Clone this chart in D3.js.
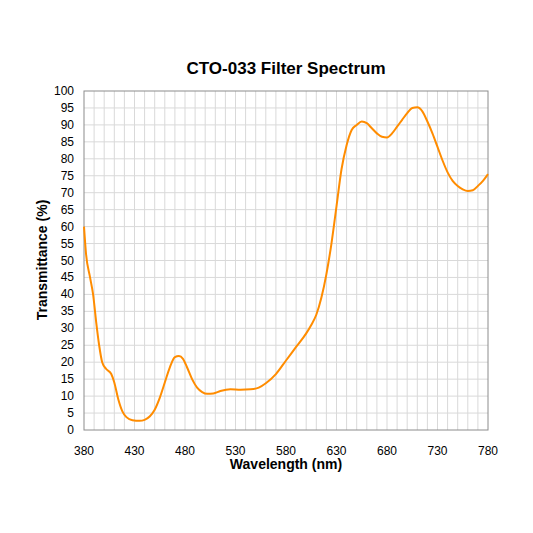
<!doctype html>
<html>
<head>
<meta charset="utf-8">
<script src="https://d3js.org/d3.v7.min.js"></script>
<style>
  body { margin: 0; background: #fff; }
  text { font-family: "Liberation Sans", Arial, sans-serif; }
</style>
</head>
<body>
<svg id="chart" width="533" height="533"></svg>
<script>
var wavelength = [380,382,386,389,392,395,398,402,407,410,414,418,422,428,435,440,445,450,455,460,465,470,474,478,482,487,492,497,502,508,515,525,535,545,553,560,570,580,590,600,605,610,615,620,625,630,635,640,645,650,655,660,665,670,675,680,685,690,695,700,705,710,715,720,725,730,735,740,745,750,755,760,765,770,775,780];
var transmittance = [60,52,45,40,32,25,20,18,16.5,14,9,5.5,3.8,2.9,2.7,3,4,6,9.5,14,18.5,21.5,21.8,21,18.5,15,12.5,11.2,10.7,10.8,11.5,12,11.9,12,12.5,13.8,16.5,20.5,24.5,28.5,31,34,39,46,55,66,77,84,88.5,90,91,90.5,89,87.5,86.5,86.3,87.5,89.5,91.5,93.5,95,95.2,94,91,87.5,83.5,79.5,76,73.5,72,71,70.5,70.7,72,73.5,75.5];
var xTicks = [380,430,480,530,580,630,680,730,780];

(function(){
var svg = d3.select("#chart");
var pLeft = 84, pRight = 488, pTop = 91, pBottom = 430;

var x = d3.scaleLinear().domain([380,780]).range([pLeft,pRight]);
var y = d3.scaleLinear().domain([0,100]).range([pBottom,pTop]);

// grid
svg.append("g").selectAll("line").data(d3.range(390,780,10)).enter().append("line")
  .attr("x1",function(d){return x(d);}).attr("x2",function(d){return x(d);})
  .attr("y1",pTop).attr("y2",pBottom).attr("stroke","#d9d9d9").attr("stroke-width",1);
svg.append("g").selectAll("line").data(d3.range(5,100,5)).enter().append("line")
  .attr("y1",function(d){return y(d);}).attr("y2",function(d){return y(d);})
  .attr("x1",pLeft).attr("x2",pRight).attr("stroke","#d9d9d9").attr("stroke-width",1);
svg.append("rect").attr("x",pLeft).attr("y",pTop).attr("width",pRight-pLeft).attr("height",pBottom-pTop)
  .attr("fill","none").attr("stroke","#8c8c8c").attr("stroke-width",1);

// tick labels
svg.append("g").selectAll("text").data(d3.range(0,101,5)).enter().append("text")
  .attr("x",pLeft-10).attr("y",function(d){return y(d)+4;}).attr("text-anchor","end")
  .attr("font-size",12).attr("fill","#000").text(function(d){return d;});
svg.append("g").selectAll("text").data(xTicks).enter().append("text")
  .attr("x",function(d){return x(d);}).attr("y",pBottom+25).attr("text-anchor","middle")
  .attr("font-size",12).attr("fill","#000").text(function(d){return d;});

var line = d3.line().x(function(d){return x(d[0]);}).y(function(d){return y(d[1]);}).curve(d3.curveMonotoneX);
svg.append("path").datum(d3.zip(wavelength,transmittance)).attr("d",line)
  .attr("fill","none").attr("stroke","#ff8c00").attr("stroke-width",2);

svg.append("text").attr("x",286).attr("y",74).attr("text-anchor","middle")
  .attr("font-size",17).attr("font-weight","bold").text("CTO-033 Filter Spectrum");
svg.append("text").attr("x",286).attr("y",469).attr("text-anchor","middle")
  .attr("font-size",14).attr("font-weight","bold").text("Wavelength (nm)");
svg.append("text").attr("transform","translate(47,260) rotate(-90)").attr("text-anchor","middle")
  .attr("font-size",14).attr("font-weight","bold").text("Transmittance (%)");
})();
</script>
</body>
</html>
